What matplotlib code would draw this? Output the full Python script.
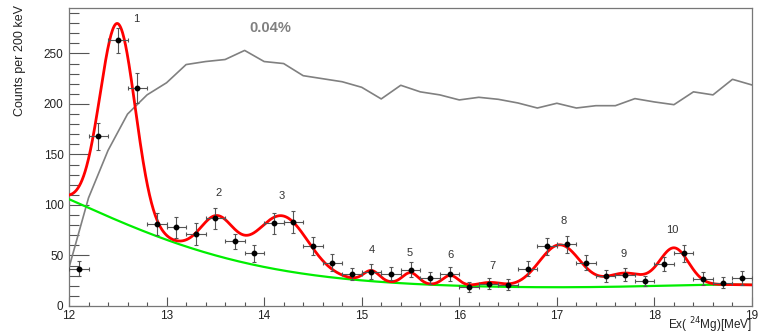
import numpy as np
import matplotlib
matplotlib.use("Agg")
import matplotlib.pyplot as plt
from matplotlib.ticker import MultipleLocator

plt.rcParams['font.family'] = ['Liberation Sans', 'DejaVu Sans']

# ---------------- data ----------------
# measured spectrum (bin centres, counts, errors)
data_x = [12.1, 12.3, 12.5, 12.7, 12.9, 13.1, 13.3, 13.5, 13.7, 13.9,
          14.1, 14.3, 14.5, 14.7, 14.9, 15.1, 15.3, 15.5, 15.7, 15.9,
          16.1, 16.3, 16.5, 16.7, 16.9, 17.1, 17.3, 17.5, 17.7, 17.9,
          18.1, 18.3, 18.5, 18.7, 18.9]
data_y = [37, 168, 263, 216, 81, 78, 71, 87, 64, 52,
          82, 83, 59, 43, 32, 34, 32, 36, 28, 32,
          19, 22, 21, 37, 59, 61, 43, 30, 31, 25,
          42, 52, 27, 23, 28]
data_yerr = [7.5, 13.5, 12.5, 15, 11, 10.5, 11, 10.5, 7.5, 8,
             10.5, 11, 9, 8, 6, 7.5, 6.5, 7.5, 6, 7,
             5, 5.5, 5.3, 7.5, 8.7, 8.7, 7.8, 5.8, 6.3, 5,
             7, 8, 6.7, 5.5, 7]
data_xerr = [0.1] * len(data_x)

# grey reference curve (0.04%)
grey_x = [12.0, 12.2, 12.4, 12.6, 12.8, 13.0, 13.2, 13.4, 13.6, 13.8,
          14.0, 14.2, 14.4, 14.6, 14.8, 15.0, 15.2, 15.4, 15.6, 15.8,
          16.0, 16.2, 16.4, 16.6, 16.8, 17.0, 17.2, 17.4, 17.6, 17.8,
          18.0, 18.2, 18.4, 18.6, 18.8, 19.0]
grey_y = [38, 107, 154, 190, 209, 221, 239, 242, 244, 253,
          242, 240, 228, 225, 222, 216.5, 205, 218.5, 212, 209,
          204, 206.6, 204.6, 201, 196, 200.7, 196, 198.3, 198.3, 205.3,
          202, 199.3, 212, 209, 224.4, 218.8]

# fitted background (green) read at these energies
bg_x = [12.0, 12.5, 13.0, 13.5, 14.0, 14.5, 15.0, 15.5, 16.0, 16.5,
        17.0, 17.5, 18.0, 18.5, 19.0]
bg_y = [105.6, 85, 65.5, 49.5, 38.5, 31.5, 25.5, 21.5, 20, 18.8,
        18.6, 19.2, 20, 20.6, 21]

# fitted peaks (red = background + gaussians)
peak_labels = ['1', '2', '3', '4', '5', '6', '7', '8', '9', '10']
peak_centroid = [12.50, 13.52, 14.19, 15.10, 15.50, 15.91, 16.32, 17.03, 17.70, 18.20]
peak_height = [195, 38, 54, 10.5, 11, 10, 4, 42, 13, 37]
peak_sigma = [0.18, 0.17, 0.26, 0.08, 0.08, 0.08, 0.12, 0.21, 0.18, 0.15]
label_x = [12.69, 13.53, 14.18, 15.10, 15.49, 15.91, 16.34, 17.07, 17.68, 18.18]
label_y = [284, 112, 109, 55, 52, 50, 40, 84, 51, 75]

# ---------------- figure ----------------
fig = plt.figure(figsize=(7.6, 3.35), dpi=100)
ax = fig.add_axes([69/760, 1-306/335, (752-69)/760, (306-8)/335])

xx = np.linspace(12, 19, 1401)
coef = np.polyfit(np.array(bg_x) - 12, bg_y, 6)
bg = np.polyval(coef, xx - 12)
total = bg.copy()
for c, h, s in zip(peak_centroid, peak_height, peak_sigma):
    total += h * np.exp(-0.5 * ((xx - c) / s) ** 2)

ax.plot(grey_x, grey_y, color='#808080', lw=1.2, zorder=2)
ax.plot(xx, bg, color='#00ee00', lw=1.6, zorder=3)
ax.plot(xx, total, color='#ff0000', lw=2.0, zorder=4)
ax.errorbar(data_x, data_y, xerr=data_xerr, yerr=data_yerr, fmt='o',
            color='black', ms=3.2, ecolor='#555555', elinewidth=0.8,
            capsize=1.5, capthick=0.8, zorder=5)

for t, x, y in zip(peak_labels, label_x, label_y):
    ax.text(x, y, t, fontsize=8, color='#333333', ha='center', va='center')

ax.text(270/760, 1-28/335, '0.04%', transform=fig.transFigure, fontsize=10.5,
        fontweight='bold', color='#808080', ha='center', va='center')

ax.set_xlim(12, 19)
ax.set_ylim(0, 295)
ax.xaxis.set_major_locator(MultipleLocator(1))
ax.xaxis.set_minor_locator(MultipleLocator(0.2))
ax.yaxis.set_major_locator(MultipleLocator(50))
ax.yaxis.set_minor_locator(MultipleLocator(10))
ax.tick_params(axis='both', which='both', direction='in', color='#555555',
               labelsize=8.5, labelcolor='#222222')
ax.tick_params(axis='y', which='major', length=14.5, width=0.8, pad=4)
ax.tick_params(axis='y', which='minor', length=7.2, width=0.8)
ax.tick_params(axis='x', which='major', length=6.5, width=0.8, pad=3)
ax.tick_params(axis='x', which='minor', length=3.2, width=0.8)
for sp in ax.spines.values():
    sp.set_color('#777777')
    sp.set_linewidth(0.9)

fig.text(20/760, 1-5/335, 'Counts per 200 keV', rotation=90, ha='center',
         va='top', fontsize=9, color='#222222')
fig.text(752/760, 1-325/335, r'Ex( $^{24}$Mg)[MeV]', ha='right', va='center',
         fontsize=8.5, color='#222222')

fig.savefig('out.png', dpi=100)
